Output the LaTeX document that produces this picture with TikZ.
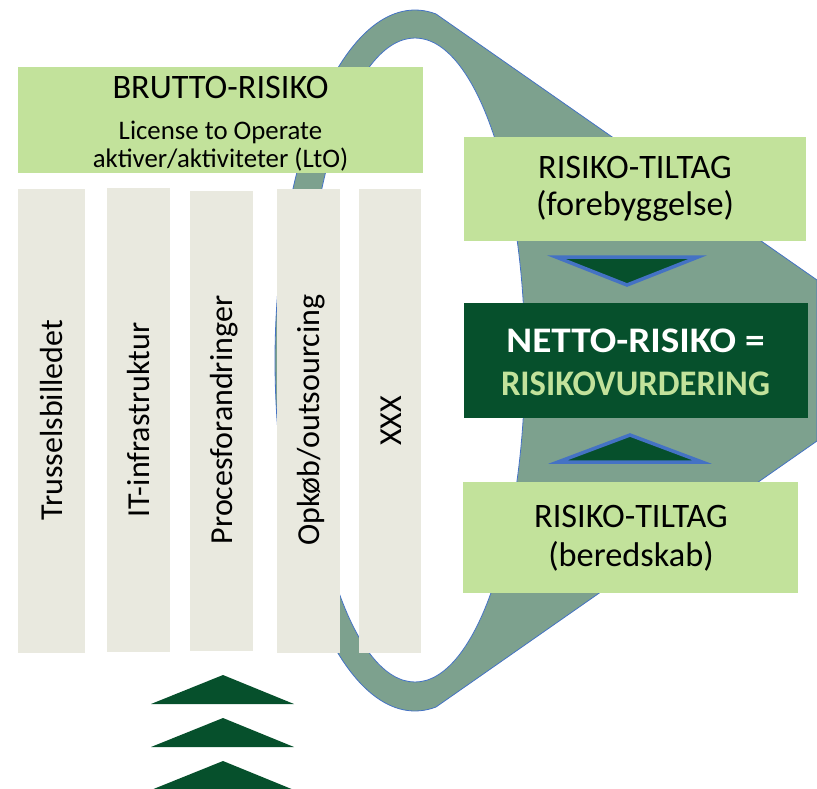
\documentclass[tikz,border=0pt]{standalone}
\usepackage{graphicx}
\usepackage{fontspec}
\setmainfont{Carlito}
\definecolor{funnelgreen}{HTML}{7DA18E}
\definecolor{edgeblue}{HTML}{4472C4}
\definecolor{lightgreen}{HTML}{C2E29B}
\definecolor{barbeige}{HTML}{E9E9DF}
\definecolor{darkgreen}{HTML}{06502C}
\newcommand{\headfont}{\fontsize{34.3bp}{37bp}\selectfont}
\newcommand{\subfont}{\fontsize{26.8bp}{30bp}\selectfont}
\newcommand{\barfont}{\fontsize{32bp}{35bp}\selectfont}
\newcommand{\nettofont}{\fontsize{36bp}{40bp}\selectfont\bfseries}
\begin{document}
\begin{tikzpicture}[x=1bp,y=-1bp,
  funnel/.style={fill=funnelgreen,draw=edgeblue,line width=0.8bp},
  hole/.style={fill=white,draw=edgeblue,line width=0.8bp},
  lightbox/.style={fill=lightgreen,inner sep=0pt,outer sep=0pt},
  darkbox/.style={fill=darkgreen,inner sep=0pt,outer sep=0pt},
  barbox/.style={fill=barbeige,inner sep=0pt,outer sep=0pt},
  label/.style={anchor=base,inner sep=0pt,text=black},
  bartext/.style={anchor=base,inner sep=0pt,rotate=90,font=\barfont},
  marker/.style={fill=darkgreen,draw=edgeblue,line width=3.5bp,line join=miter},
  chevron/.style={fill=darkgreen}]
\useasboundingbox (0,0) rectangle (817,789);

% funnel: elliptical rim on the left, tapering towards the right edge
\path[funnel] plot[domain=81.4:278.6,samples=120]
    ({415+140*cos(\x)},{360.5-350.5*sin(\x)})
  -- (817,441) -- (817,280) -- cycle;
\path[hole] (415,360) ellipse [x radius=110,y radius=322];

% gross risk header
\node[lightbox,minimum width=405bp,minimum height=106bp] (brutto) at (220.5,120) {};
\node[label,font=\headfont] (bruttoT) at (220.5,98) {BRUTTO-RISIKO};
\node[label,font=\subfont] (bruttoS1) at (220.5,139) {License to Operate};
\node[label,font=\subfont] (bruttoS2) at (220.5,167) {aktiver/aktiviteter (LtO)};

% risk factor columns
\node[barbox,minimum width=67bp,minimum height=464bp] (bar1) at (51.5,421) {};
\node[barbox,minimum width=63bp,minimum height=464bp] (bar2) at (138.5,420) {};
\node[barbox,minimum width=63bp,minimum height=460bp] (bar3) at (221.5,421) {};
\node[barbox,minimum width=63bp,minimum height=464bp] (bar4) at (308.5,421) {};
\node[barbox,minimum width=62bp,minimum height=464bp] (bar5) at (390,421) {};
\node[bartext] (bar1T) at (62,420) {Trusselsbilledet};
\node[bartext] (bar2T) at (149.5,420) {IT-infrastruktur};
\node[bartext] (bar3T) at (232.5,420) {Procesforandringer};
\node[bartext] (bar4T) at (319.5,420) {Opkøb/outsourcing};
\node[bartext] (bar5T) at (401,421) {XXX};

% mitigation boxes and net risk
\node[lightbox,minimum width=342bp,minimum height=104bp] (forebyg) at (635,189) {};
\node[label,font=\headfont] (forebygT) at (635,178) {RISIKO-TILTAG};
\node[label,font=\headfont] (forebygS) at (635,215) {(forebyggelse)};

\node[darkbox,minimum width=344bp,minimum height=115bp] (netto) at (636,360.5) {};
\node[label,font=\nettofont,text=white] (nettoT) at (635.5,352) {\scalebox{1.09}[1]{NETTO-RISIKO =}};
\node[label,font=\nettofont,text=lightgreen] (nettoS) at (635.5,395) {\scalebox{0.96}[1]{RISIKOVURDERING}};

\node[lightbox,minimum width=335bp,minimum height=111bp] (bered) at (630.5,537.5) {};
\node[label,font=\headfont] (beredT) at (631,527) {RISIKO-TILTAG};
\node[label,font=\headfont] (beredS) at (631,566) {(beredskab)};

% triangles pointing at the net risk
\path[marker] (556,257) -- (698,257) -- (627,285) -- cycle;
\path[marker] (558,462) -- (702,462) -- (630,435) -- cycle;

% upward chevrons below the columns
\path[chevron] (151,704) -- (294,704) -- (223,675) -- cycle;
\path[chevron] (151,747) -- (294,747) -- (223,718) -- cycle;
\path[chevron] (151,790) -- (294,790) -- (223,761) -- cycle;
\end{tikzpicture}
\end{document}
